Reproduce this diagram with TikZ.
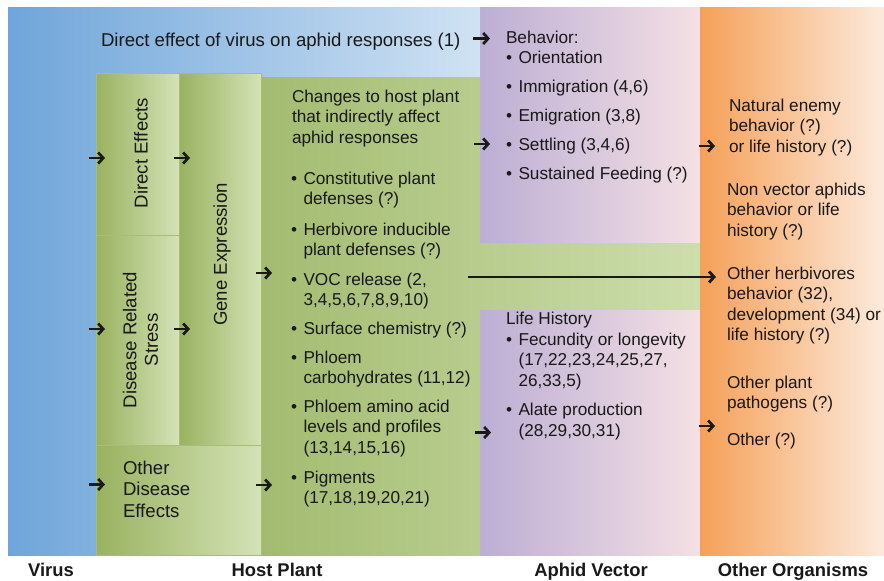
\documentclass[tikz,border=0pt]{standalone}
\usepackage{fontspec}
\setmainfont{Liberation Sans}
\usetikzlibrary{arrows.meta}
\definecolor{blueL}{RGB}{111,165,218}
\definecolor{blueR}{RGB}{208,226,243}
\definecolor{grD}{RGB}{153,178,96}
\definecolor{grL}{RGB}{212,226,181}
\definecolor{bgD}{RGB}{163,187,112}
\definecolor{bgL}{RGB}{205,222,172}
\definecolor{grLine}{RGB}{165,190,120}
\definecolor{puL}{RGB}{188,174,212}
\definecolor{puR}{RGB}{244,224,228}
\definecolor{orL}{RGB}{245,160,88}
\definecolor{orR}{RGB}{253,234,220}
\definecolor{ink}{RGB}{25,25,25}
\newcommand{\fsA}{\fontsize{18.6}{21.5}\selectfont}
\newcommand{\fsB}{\fontsize{17.2}{20.5}\selectfont}
\newcommand{\fsC}{\fontsize{18.4}{22}\selectfont\bfseries}
\newcommand{\lns}[1]{\begin{tabular}[t]{@{}l@{}}#1\end{tabular}}
\newcommand{\bitem}[1]{\begin{tabular}[t]{@{}l@{\hspace{6.5pt}}l@{}}\textbullet&#1\end{tabular}}
\begin{document}
\begin{tikzpicture}[x=1pt,y=-1pt,
  every node/.style={text=ink, inner sep=0pt, outer sep=0pt},
  gbox/.style={left color=grD, right color=grL, draw=grLine, line width=0.4pt},
  txtA/.style={font=\fsA, anchor=base west},
  txtB/.style={font=\fsB, anchor=base west},
  lbl/.style={font=\fsC, anchor=base},
  arr/.style={line width=2.7pt, draw=ink, -{Straight Barb[length=5pt,width=11pt]}},
  longarr/.style={line width=2.9pt, draw=ink, -{Straight Barb[length=5pt,width=11pt]}}]
\useasboundingbox (0,0) rectangle (884,581);
\fill[white] (0,0) rectangle (884,581);
% backgrounds
\shade[left color=blueL, right color=blueR] (8,7) rectangle (480,555);
\shade[left color=bgD, right color=bgL] (261,77) rectangle (700,555);
\shade[gbox] (96,73) rectangle (179,235);
\shade[gbox] (96,235) rectangle (179,445);
\shade[gbox] (179,73) rectangle (261,445);
\shade[gbox] (96,445) rectangle (261,555);
\shade[left color=puL, right color=puR] (480,7) rectangle (700,242);
\shade[left color=puL, right color=puR] (480,310) rectangle (700,555);
\shade[left color=orL, right color=orR] (700,7) rectangle (884,555);
% texts
\node[txtA] (direct) at (101,46.5) {Direct effect of virus on aphid responses (1)};
\node[font=\fsA, rotate=90] (de) at (141,153) {Direct Effects};
\node[font=\fsA, rotate=90, align=center] (drs) at (140.5,340) {Disease Related\\Stress};
\node[font=\fsA, rotate=90] (ge) at (222,254.5) {Gene Expression};
\node[txtA] (ode) at (123,474) {\lns{Other\\Disease\\Effects}};
\node[txtB] (chg) at (292,102) {\lns{Changes to host plant\\that indirectly affect\\aphid responses}};
\node[txtB] (i1) at (291,184) {\bitem{Constitutive plant\\&defenses (?)}};
\node[txtB] (i2) at (291,235) {\bitem{Herbivore inducible\\&plant defenses (?)}};
\node[txtB] (i3) at (291,285) {\bitem{VOC release (2,\\&3,4,5,6,7,8,9,10)}};
\node[txtB] (i4) at (291,334) {\bitem{Surface chemistry (?)}};
\node[txtB] (i5) at (291,363) {\bitem{Phloem\\&carbohydrates (11,12)}};
\node[txtB] (i6) at (291,412) {\bitem{Phloem amino acid\\&levels and profiles\\&(13,14,15,16)}};
\node[txtB] (i7) at (291,483) {\bitem{Pigments\\&(17,18,19,20,21)}};
\node[txtB] (beh) at (506,43) {Behavior:};
\node[txtB] (b1) at (506,63.5) {\bitem{Orientation}};
\node[txtB] (b2) at (506,92.5) {\bitem{Immigration (4,6)}};
\node[txtB] (b3) at (506,121.5) {\bitem{Emigration (3,8)}};
\node[txtB] (b4) at (506,150.5) {\bitem{Settling (3,4,6)}};
\node[txtB] (b5) at (506,179.5) {\bitem{Sustained Feeding (?)}};
\node[txtB] (lh) at (506,324) {Life History};
\node[txtB] (l1) at (506,345) {\bitem{Fecundity or longevity\\&(17,22,23,24,25,27,\\&26,33,5)}};
\node[txtB] (l2) at (506,415.5) {\bitem{Alate production\\&(28,29,30,31)}};
\node[txtB] (o1) at (729,111) {\lns{Natural enemy\\behavior (?)\\or life history (?)}};
\node[txtB] (o2) at (727,195) {\lns{Non vector aphids\\behavior or life\\history (?)}};
\node[txtB] (o3) at (727,279) {\lns{Other herbivores\\behavior (32),\\development (34) or\\life history (?)}};
\node[txtB] (o4) at (727,388) {\lns{Other plant\\pathogens (?)}};
\node[txtB] (o5) at (727,445) {Other (?)};
% bottom labels
\node[lbl] (lv) at (51,576) {Virus};
\node[lbl] (lhp) at (277,576) {Host Plant};
\node[lbl] (lav) at (591,576) {Aphid Vector};
\node[lbl] (loo) at (793,576) {Other Organisms};
% arrows
\coordinate (a0s) at (473,38.5); \coordinate (a0e) at (490,38.5);
\coordinate (a1s) at (89,158);   \coordinate (a1e) at (105,158);
\coordinate (a2s) at (174,158);  \coordinate (a2e) at (190,158);
\coordinate (a3s) at (89,329);   \coordinate (a3e) at (105,329);
\coordinate (a4s) at (174,329);  \coordinate (a4e) at (190,329);
\coordinate (a5s) at (89,484.5); \coordinate (a5e) at (105,484.5);
\coordinate (a6s) at (256,485);  \coordinate (a6e) at (272,485);
\coordinate (a7s) at (256,273);  \coordinate (a7e) at (272,273);
\coordinate (a8s) at (474,144);  \coordinate (a8e) at (490,144);
\coordinate (a9s) at (475,432.5);\coordinate (a9e) at (491,432.5);
\coordinate (a10s) at (699,146); \coordinate (a10e) at (715,146);
\coordinate (a11s) at (468,277); \coordinate (a11e) at (716,277);
\coordinate (a12s) at (699,426); \coordinate (a12e) at (715,426);
\draw[arr] (a0s) -- (a0e);
\draw[arr] (a1s) -- (a1e);
\draw[arr] (a2s) -- (a2e);
\draw[arr] (a3s) -- (a3e);
\draw[arr] (a4s) -- (a4e);
\draw[arr] (a5s) -- (a5e);
\draw[arr] (a6s) -- (a6e);
\draw[arr] (a7s) -- (a7e);
\draw[arr] (a8s) -- (a8e);
\draw[arr] (a9s) -- (a9e);
\draw[arr] (a10s) -- (a10e);
\draw[longarr] (a11s) -- (a11e);
\draw[arr] (a12s) -- (a12e);
\end{tikzpicture}
\end{document}
